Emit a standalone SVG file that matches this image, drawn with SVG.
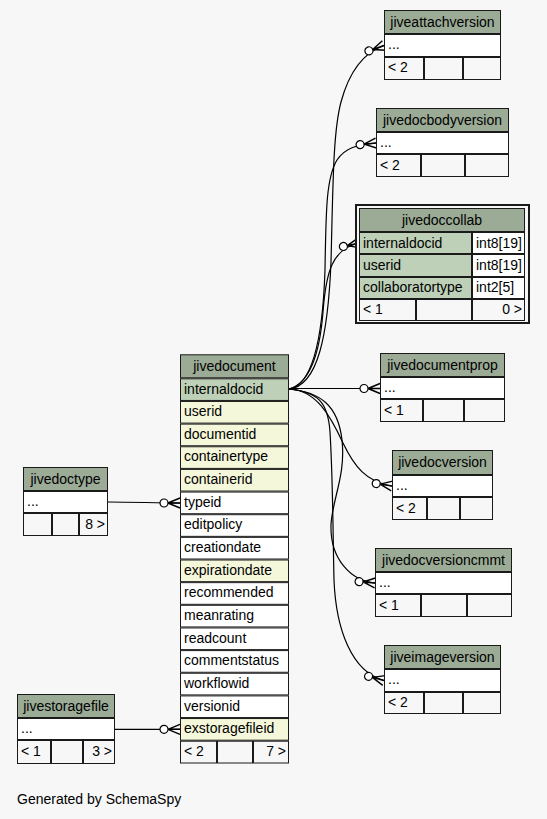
<svg xmlns="http://www.w3.org/2000/svg" width="547" height="819" viewBox="0 0 547 819">
<style>
text{font-family:"Liberation Sans",Arial,Helvetica,sans-serif;font-size:14px;fill:#000}
.c{text-anchor:middle}
.r{text-anchor:end}
rect{stroke:#1a1a1a;stroke-width:1}
.hd{fill:#9bab96}
.pk{fill:#bed1b8}
.ix{fill:#f4f7da}
.pl{fill:#ffffff}
.ft{fill:#f7f7f7}
.edge{fill:none;stroke:#000;stroke-width:1.2;marker-end:url(#crow)}
</style>
<defs>
<marker id="crow" markerUnits="userSpaceOnUse" markerWidth="26" markerHeight="16" viewBox="0 0 26 16" refX="24" refY="8" orient="auto" overflow="visible">
<path d="M12,8 L24,3 M12,8 L24,8 M12,8 L24,13" fill="none" stroke="#000" stroke-width="1.4"/>
<circle cx="8" cy="8" r="4" fill="#fff" stroke="#000" stroke-width="1.2"/>
</marker>
</defs>
<rect x="0" y="0" width="547" height="819" style="fill:#f7f7f7;stroke:none"/>

<g id="connectors">
<path class="edge" d="M289,389 C318,386 328,335 331,262 C333,185 333,132 341,102 C348,76 360,54 384,45.5"/>
<path class="edge" d="M289,389 C314,385 323,330 325,270 C326,212 326,178 337,160 C345,148 356,145 376,143"/>
<path class="edge" d="M289,389 C311,383 320,350 323,312 C326,272 332,249 359,243"/>
<path class="edge" d="M289,388.5 L380,388.5"/>
<path class="edge" d="M289,389 C316,390 330,415 343,443 C354,466 366,482 392,486"/>
<path class="edge" d="M289,389 C320,392 338,405 342,440 C346,475 332,500 331,525 C330,560 352,581 375,583"/>
<path class="edge" d="M289,389 C318,392 328,402 330,432 C333,480 333,540 334,580 C336,630 352,672 384,680.5"/>
<path class="edge" d="M108,502 C135,502 155,503 180,503"/>
<path class="edge" d="M115,729.3 L180,729.3"/>
</g>

<g id="jiveattachversion">
<rect class="hd" x="384.5" y="10.5" width="116" height="23"/>
<rect class="pl" x="384.5" y="34.5" width="116" height="22"/>
<rect class="ft" x="384.5" y="57.5" width="39" height="22"/>
<rect class="ft" x="424.5" y="57.5" width="38" height="22"/>
<rect class="ft" x="463.5" y="57.5" width="37" height="22"/>
<text class="c" x="442.5" y="26.5">jiveattachversion</text>
<text x="388" y="49">...</text>
<text x="388" y="72">&lt; 2</text>
</g>

<g id="jivedocbodyversion">
<rect class="hd" x="376.5" y="108.5" width="132" height="23"/>
<rect class="pl" x="376.5" y="132.5" width="132" height="21"/>
<rect class="ft" x="376.5" y="154.5" width="44" height="22"/>
<rect class="ft" x="421.5" y="154.5" width="43" height="22"/>
<rect class="ft" x="465.5" y="154.5" width="43" height="22"/>
<text class="c" x="442.5" y="124.5">jivedocbodyversion</text>
<text x="380" y="147">...</text>
<text x="380" y="169.5">&lt; 2</text>
</g>

<g id="jivedoccollab">
<rect x="356" y="205" width="173" height="118" style="fill:#f7f7f7;stroke:#1a1a1a;stroke-width:2"/>
<rect class="hd" x="359.5" y="208.5" width="165" height="23"/>
<rect class="pk" x="359.5" y="232.5" width="112" height="21"/>
<rect class="pl" x="472.5" y="232.5" width="52" height="21"/>
<rect class="pk" x="359.5" y="254.5" width="112" height="22"/>
<rect class="pl" x="472.5" y="254.5" width="52" height="22"/>
<rect class="pk" x="359.5" y="277.5" width="112" height="21"/>
<rect class="pl" x="472.5" y="277.5" width="52" height="21"/>
<rect class="ft" x="359.5" y="299.5" width="56" height="21"/>
<rect class="ft" x="416.5" y="299.5" width="55" height="21"/>
<rect class="ft" x="472.5" y="299.5" width="52" height="21"/>
<text class="c" x="442" y="224.5">jivedoccollab</text>
<text x="363" y="247.5">internaldocid</text>
<text x="476" y="247.5">int8[19]</text>
<text x="363" y="269.5">userid</text>
<text x="476" y="269.5">int8[19]</text>
<text x="363" y="292">collaboratortype</text>
<text x="476" y="292">int2[5]</text>
<text x="363" y="314">&lt; 1</text>
<text class="r" x="522" y="314">0 &gt;</text>
</g>

<g id="jivedocumentprop">
<rect class="hd" x="380.5" y="353.5" width="124" height="23"/>
<rect class="pl" x="380.5" y="377.5" width="124" height="21"/>
<rect class="ft" x="380.5" y="399.5" width="42" height="22"/>
<rect class="ft" x="423.5" y="399.5" width="40" height="22"/>
<rect class="ft" x="464.5" y="399.5" width="40" height="22"/>
<text class="c" x="442.5" y="369.5">jivedocumentprop</text>
<text x="384" y="392">...</text>
<text x="384" y="414.5">&lt; 1</text>
</g>

<g id="jivedocversion">
<rect class="hd" x="392.5" y="450.5" width="100" height="24"/>
<rect class="pl" x="392.5" y="475.5" width="100" height="21"/>
<rect class="ft" x="392.5" y="497.5" width="34" height="22"/>
<rect class="ft" x="427.5" y="497.5" width="32" height="22"/>
<rect class="ft" x="460.5" y="497.5" width="32" height="22"/>
<text class="c" x="442.5" y="467">jivedocversion</text>
<text x="396" y="490">...</text>
<text x="396" y="512.5">&lt; 2</text>
</g>

<g id="jivedocversioncmmt">
<rect class="hd" x="375.5" y="548.5" width="136" height="23"/>
<rect class="pl" x="375.5" y="572.5" width="136" height="21"/>
<rect class="ft" x="375.5" y="594.5" width="45" height="22"/>
<rect class="ft" x="421.5" y="594.5" width="45" height="22"/>
<rect class="ft" x="467.5" y="594.5" width="44" height="22"/>
<text class="c" x="443.5" y="564.5">jivedocversioncmmt</text>
<text x="379" y="587">...</text>
<text x="379" y="609.5">&lt; 1</text>
</g>

<g id="jiveimageversion">
<rect class="hd" x="384.5" y="645.5" width="116" height="23"/>
<rect class="pl" x="384.5" y="669.5" width="116" height="22"/>
<rect class="ft" x="384.5" y="692.5" width="39" height="21"/>
<rect class="ft" x="424.5" y="692.5" width="38" height="21"/>
<rect class="ft" x="463.5" y="692.5" width="37" height="21"/>
<text class="c" x="442.5" y="661.5">jiveimageversion</text>
<text x="388" y="684">...</text>
<text x="388" y="707">&lt; 2</text>
</g>

<g id="jivedoctype">
<rect class="hd" x="23.5" y="467.5" width="84" height="23"/>
<rect class="pl" x="23.5" y="491.5" width="84" height="21"/>
<rect class="ft" x="23.5" y="513.5" width="28" height="22"/>
<rect class="ft" x="52.5" y="513.5" width="26" height="22"/>
<rect class="ft" x="79.5" y="513.5" width="28" height="22"/>
<text class="c" x="65.5" y="483.5">jivedoctype</text>
<text x="27" y="506">...</text>
<text class="r" x="105" y="528.5">8 &gt;</text>
</g>

<g id="jivestoragefile">
<rect class="hd" x="17.5" y="694.5" width="97" height="23"/>
<rect class="pl" x="17.5" y="718.5" width="97" height="21"/>
<rect class="ft" x="17.5" y="740.5" width="33" height="23"/>
<rect class="ft" x="51.5" y="740.5" width="31" height="23"/>
<rect class="ft" x="83.5" y="740.5" width="31" height="23"/>
<text class="c" x="66" y="710.5">jivestoragefile</text>
<text x="21" y="733">...</text>
<text x="21" y="756">&lt; 1</text>
<text class="r" x="112" y="756">3 &gt;</text>
</g>

<g id="jivedocument">
<rect class="hd" x="180.5" y="354.8" width="108" height="23"/>
<rect class="pk" x="180.5" y="378.8" width="108" height="21.65"/>
<rect class="ix" x="180.5" y="401.45" width="108" height="21.65"/>
<rect class="ix" x="180.5" y="424.1" width="108" height="21.65"/>
<rect class="ix" x="180.5" y="446.75" width="108" height="21.65"/>
<rect class="ix" x="180.5" y="469.4" width="108" height="21.65"/>
<rect class="pl" x="180.5" y="492.05" width="108" height="21.65"/>
<rect class="pl" x="180.5" y="514.7" width="108" height="21.65"/>
<rect class="pl" x="180.5" y="537.35" width="108" height="21.65"/>
<rect class="ix" x="180.5" y="560" width="108" height="21.65"/>
<rect class="pl" x="180.5" y="582.65" width="108" height="21.65"/>
<rect class="pl" x="180.5" y="605.3" width="108" height="21.65"/>
<rect class="pl" x="180.5" y="627.95" width="108" height="21.65"/>
<rect class="pl" x="180.5" y="650.6" width="108" height="21.65"/>
<rect class="pl" x="180.5" y="673.25" width="108" height="21.65"/>
<rect class="pl" x="180.5" y="695.9" width="108" height="21.65"/>
<rect class="ix" x="180.5" y="718.55" width="108" height="21.65"/>
<rect class="ft" x="180.5" y="741.2" width="36" height="21.8"/>
<rect class="ft" x="217.5" y="741.2" width="35" height="21.8"/>
<rect class="ft" x="253.5" y="741.2" width="35" height="21.8"/>
<text class="c" x="234.5" y="370.5">jivedocument</text>
<text x="184" y="393.5">internaldocid</text>
<text x="184" y="416.1">userid</text>
<text x="184" y="438.8">documentid</text>
<text x="184" y="461.4">containertype</text>
<text x="184" y="484.1">containerid</text>
<text x="184" y="506.7">typeid</text>
<text x="184" y="529.4">editpolicy</text>
<text x="184" y="552">creationdate</text>
<text x="184" y="574.7">expirationdate</text>
<text x="184" y="597.3">recommended</text>
<text x="184" y="620">meanrating</text>
<text x="184" y="642.6">readcount</text>
<text x="184" y="665.3">commentstatus</text>
<text x="184" y="687.9">workflowid</text>
<text x="184" y="710.6">versionid</text>
<text x="184" y="733.2">exstoragefileid</text>
<text x="184" y="756">&lt; 2</text>
<text class="r" x="286" y="756">7 &gt;</text>
</g>

<text x="17" y="804">Generated by SchemaSpy</text>
</svg>
